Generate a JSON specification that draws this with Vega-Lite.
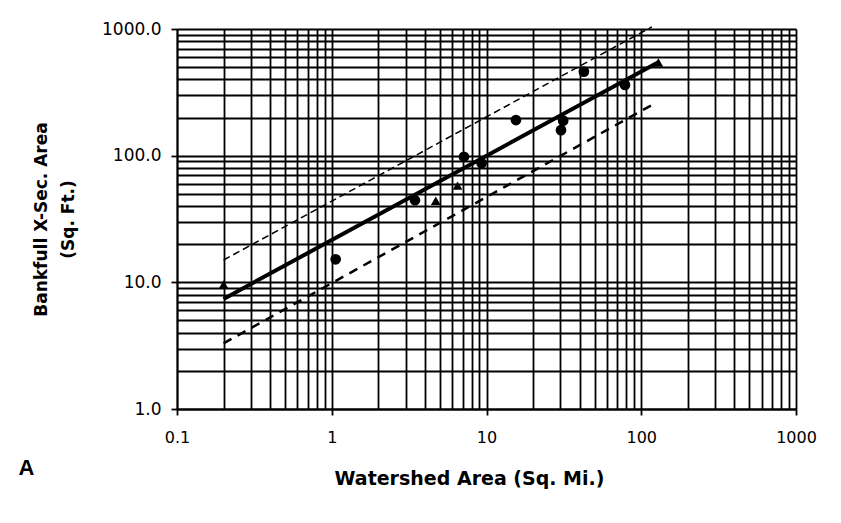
{
  "$schema": "https://vega.github.io/schema/vega-lite/v6.json",
  "width": 619,
  "height": 380,
  "autosize": {"type": "none"},
  "padding": {"left": 177, "top": 29, "right": 45, "bottom": 114},
  "background": "white",
  "config": {
    "view": {"stroke": null},
    "font": "DejaVu Sans"
  },
  "title": {
    "text": "A",
    "orient": "bottom",
    "anchor": "start",
    "frame": "bounds",
    "fontSize": 22,
    "fontWeight": "bold",
    "font": "Liberation Sans",
    "color": "#000",
    "dx": -14,
    "dy": -34
  },
  "datasets": {
    "points": [
      {"x": 0.2, "y": 9.6, "s": "tri"},
      {"x": 1.06, "y": 15.2, "s": "circ"},
      {"x": 3.45, "y": 44.5, "s": "circ"},
      {"x": 4.7, "y": 44, "s": "tri"},
      {"x": 6.5, "y": 58, "s": "tri"},
      {"x": 7.15, "y": 98, "s": "circ"},
      {"x": 9.3, "y": 87, "s": "circ"},
      {"x": 15.5, "y": 191, "s": "circ"},
      {"x": 30.3, "y": 159, "s": "circ"},
      {"x": 31.3, "y": 189, "s": "circ"},
      {"x": 42.6, "y": 461, "s": "circ"},
      {"x": 78.5, "y": 362, "s": "circ"},
      {"x": 129, "y": 543, "s": "tri"}
    ],
    "lines": [
      {"x": 0.2, "y": 7.4, "g": "fit"},
      {"x": 128, "y": 545, "g": "fit"},
      {"x": 0.2, "y": 15, "g": "up"},
      {"x": 117, "y": 1040, "g": "up"},
      {"x": 0.2, "y": 3.3, "g": "low"},
      {"x": 117, "y": 251, "g": "low"}
    ]
  },
  "encoding": {
    "x": {
      "field": "x",
      "type": "quantitative",
      "scale": {"type": "log", "domain": [0.1, 1000], "nice": false},
      "axis": {
        "title": "Watershed Area (Sq. Mi.)",
        "titleFont": "DejaVu Sans",
        "titleFontSize": 19,
        "titleFontWeight": "bold",
        "titleColor": "#000",
        "titlePadding": 24,
        "titleX": 292,
        "values": [0.1,0.2,0.3,0.4,0.5,0.6,0.7,0.8,0.9,1,2,3,4,5,6,7,8,9,10,20,30,40,50,60,70,80,90,100,200,300,400,500,600,700,800,900,1000],
        "labelExpr": "indexof([0.1,1,10,100,1000], datum.value) >= 0 ? format(datum.value, '~g') : ''",
        "labelFont": "DejaVu Sans",
        "labelFontSize": 16,
        "labelColor": "#000",
        "labelPadding": 14,
        "labelOverlap": false,
        "labelBound": false,
        "labelFlush": false,
        "grid": true,
        "gridColor": "#000",
        "gridWidth": 1.8,
        "gridOpacity": 1,
        "domainColor": "#000",
        "domainWidth": 1.8,
        "tickColor": "#000",
        "tickWidth": 1.8,
        "tickSize": 6,
        "tickOpacity": {"condition": {"test": "indexof([0.1,1,10,100,1000], datum.value) >= 0", "value": 1}, "value": 0}
      }
    },
    "y": {
      "field": "y",
      "type": "quantitative",
      "scale": {"type": "log", "domain": [1, 1000], "nice": false},
      "axis": {
        "title": ["Bankfull X-Sec. Area", "(Sq. Ft.)"],
        "titleFont": "DejaVu Sans",
        "titleFontSize": 17,
        "titleFontWeight": "bold",
        "titleColor": "#000",
        "titlePadding": 24,
        "titleLineHeight": 27,
        "values": [1,2,3,4,5,6,7,8,9,10,20,30,40,50,60,70,80,90,100,200,300,400,500,600,700,800,900,1000],
        "labelExpr": "indexof([1,10,100,1000], datum.value) >= 0 ? format(datum.value, '.1f') : ''",
        "labelFont": "DejaVu Sans",
        "labelFontSize": 17,
        "labelColor": "#000",
        "labelPadding": 10,
        "labelOverlap": false,
        "labelBound": false,
        "labelFlush": false,
        "grid": true,
        "gridColor": "#000",
        "gridWidth": 1.8,
        "gridOpacity": 1,
        "domainColor": "#000",
        "domainWidth": 1.8,
        "tickColor": "#000",
        "tickWidth": 1.8,
        "tickSize": 6,
        "tickOpacity": {"condition": {"test": "indexof([1,10,100,1000], datum.value) >= 0", "value": 1}, "value": 0}
      }
    }
  },
  "layer": [
    {
      "data": {"name": "lines"},
      "transform": [{"filter": "datum.g == 'up'"}],
      "mark": {"type": "line", "color": "#000", "strokeWidth": 1.5, "strokeDash": [7, 4]},
      "encoding": {}
    },
    {
      "data": {"name": "lines"},
      "transform": [{"filter": "datum.g == 'low'"}],
      "mark": {"type": "line", "color": "#000", "strokeWidth": 2.5, "strokeDash": [9, 7]},
      "encoding": {}
    },
    {
      "data": {"name": "lines"},
      "transform": [{"filter": "datum.g == 'fit'"}],
      "mark": {"type": "line", "color": "#000", "strokeWidth": 4},
      "encoding": {}
    },
    {
      "data": {"name": "points"},
      "mark": {"type": "point", "filled": true, "color": "#000", "opacity": 1},
      "encoding": {
        "shape": {
          "field": "s",
          "type": "nominal",
          "scale": {"domain": ["circ", "tri"], "range": ["circle", "triangle-up"]},
          "legend": null
        },
        "size": {
          "field": "s",
          "type": "nominal",
          "scale": {"domain": ["circ", "tri"], "range": [115, 95]},
          "legend": null
        }
      }
    }
  ]
}
